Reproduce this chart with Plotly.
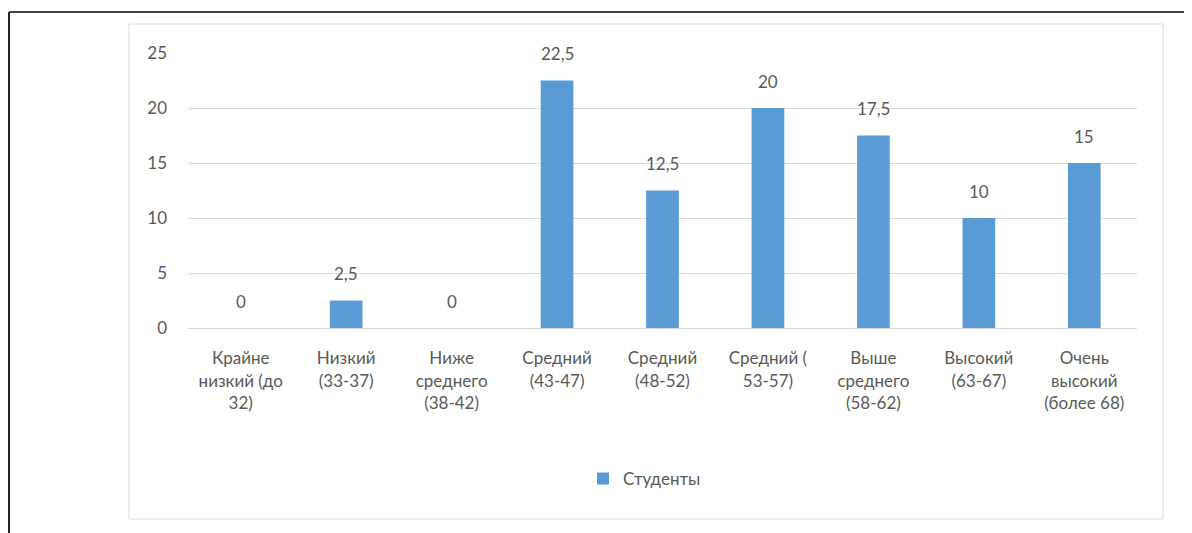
import plotly.graph_objects as go

categories = [
    "Крайне<br>низкий (до<br>32)",
    "Низкий<br>(33-37)",
    "Ниже<br>среднего<br>(38-42)",
    "Средний<br>(43-47)",
    "Средний<br>(48-52)",
    "Средний (<br>53-57)",
    "Выше<br>среднего<br>(58-62)",
    "Высокий<br>(63-67)",
    "Очень<br>высокий<br>(более 68)",
]
values = [0, 2.5, 0, 22.5, 12.5, 20, 17.5, 10, 15]
labels = ["0", "2,5", "0", "22,5", "12,5", "20", "17,5", "10", "15"]
series_name = "Студенты"
y_ticks = [0, 5, 10, 15, 20, 25]

FONT = "Lato"
GRAY = "#595959"
BLUE = "#5B9BD5"
FS = 17

OFF = 8  # page body margin
W, H = 1192 - OFF, 533 - OFF
# page coordinates of plot area: x 188..1137, y 53..328
L, R, T, B = 188 - OFF, W - (1137 - OFF), 53 - OFF, H - (328 - OFF)
pw, ph = W - L - R, H - T - B

def px(x):  # page x -> paper
    return (x - OFF - L) / pw

def py(y):  # page y -> paper
    return (H - B - (y - OFF)) / ph

fig = go.Figure()
fig.add_trace(go.Bar(
    x=categories, y=values, name=series_name,
    marker=dict(color=BLUE, line=dict(width=0)),
    width=0.31,
    showlegend=True,
))

for c, v, t in zip(categories, values, labels):
    fig.add_annotation(x=c, y=v, text=t, showarrow=False, yanchor="middle",
                       yshift=27, font=dict(family=FONT, size=FS, color=GRAY))

shapes = [
    dict(type="line", xref="paper", yref="paper", x0=px(9), x1=px(9), y0=py(12), y1=py(540),
         line=dict(color="#222222", width=2)),
    dict(type="line", xref="paper", yref="paper", x0=px(9), x1=px(1200), y0=py(12), y1=py(12),
         line=dict(color="#444444", width=2)),
    dict(type="rect", xref="paper", yref="paper", x0=px(129), x1=px(1163), y0=py(519), y1=py(24),
         line=dict(color="#D9D9D9", width=1), layer="below"),
]

fig.update_layout(
    width=W, height=H,
    margin=dict(l=L, r=R, t=T, b=B, autoexpand=False),
    paper_bgcolor="white", plot_bgcolor="white",
    font=dict(family=FONT, size=FS, color=GRAY),
    bargap=0.69,
    shapes=shapes,
    showlegend=True,
    legend=dict(orientation="h", x=px(583), xanchor="left", y=py(479), yanchor="middle",
                font=dict(family=FONT, size=FS, color=GRAY), itemwidth=30),
    xaxis=dict(showgrid=False, showline=True, linecolor="#D9D9D9", linewidth=1,
               ticks="", tickfont=dict(family=FONT, size=FS, color=GRAY),
               ticklabelstandoff=15, fixedrange=True),
    yaxis=dict(range=[0, 25], tickvals=y_ticks, showgrid=True, gridcolor="#D9D9D9",
               gridwidth=1, zeroline=False, showline=False, ticks="",
               tickfont=dict(family=FONT, size=FS, color=GRAY), ticklabelstandoff=20,
               fixedrange=True),
)

fig.write_html("out.html")
